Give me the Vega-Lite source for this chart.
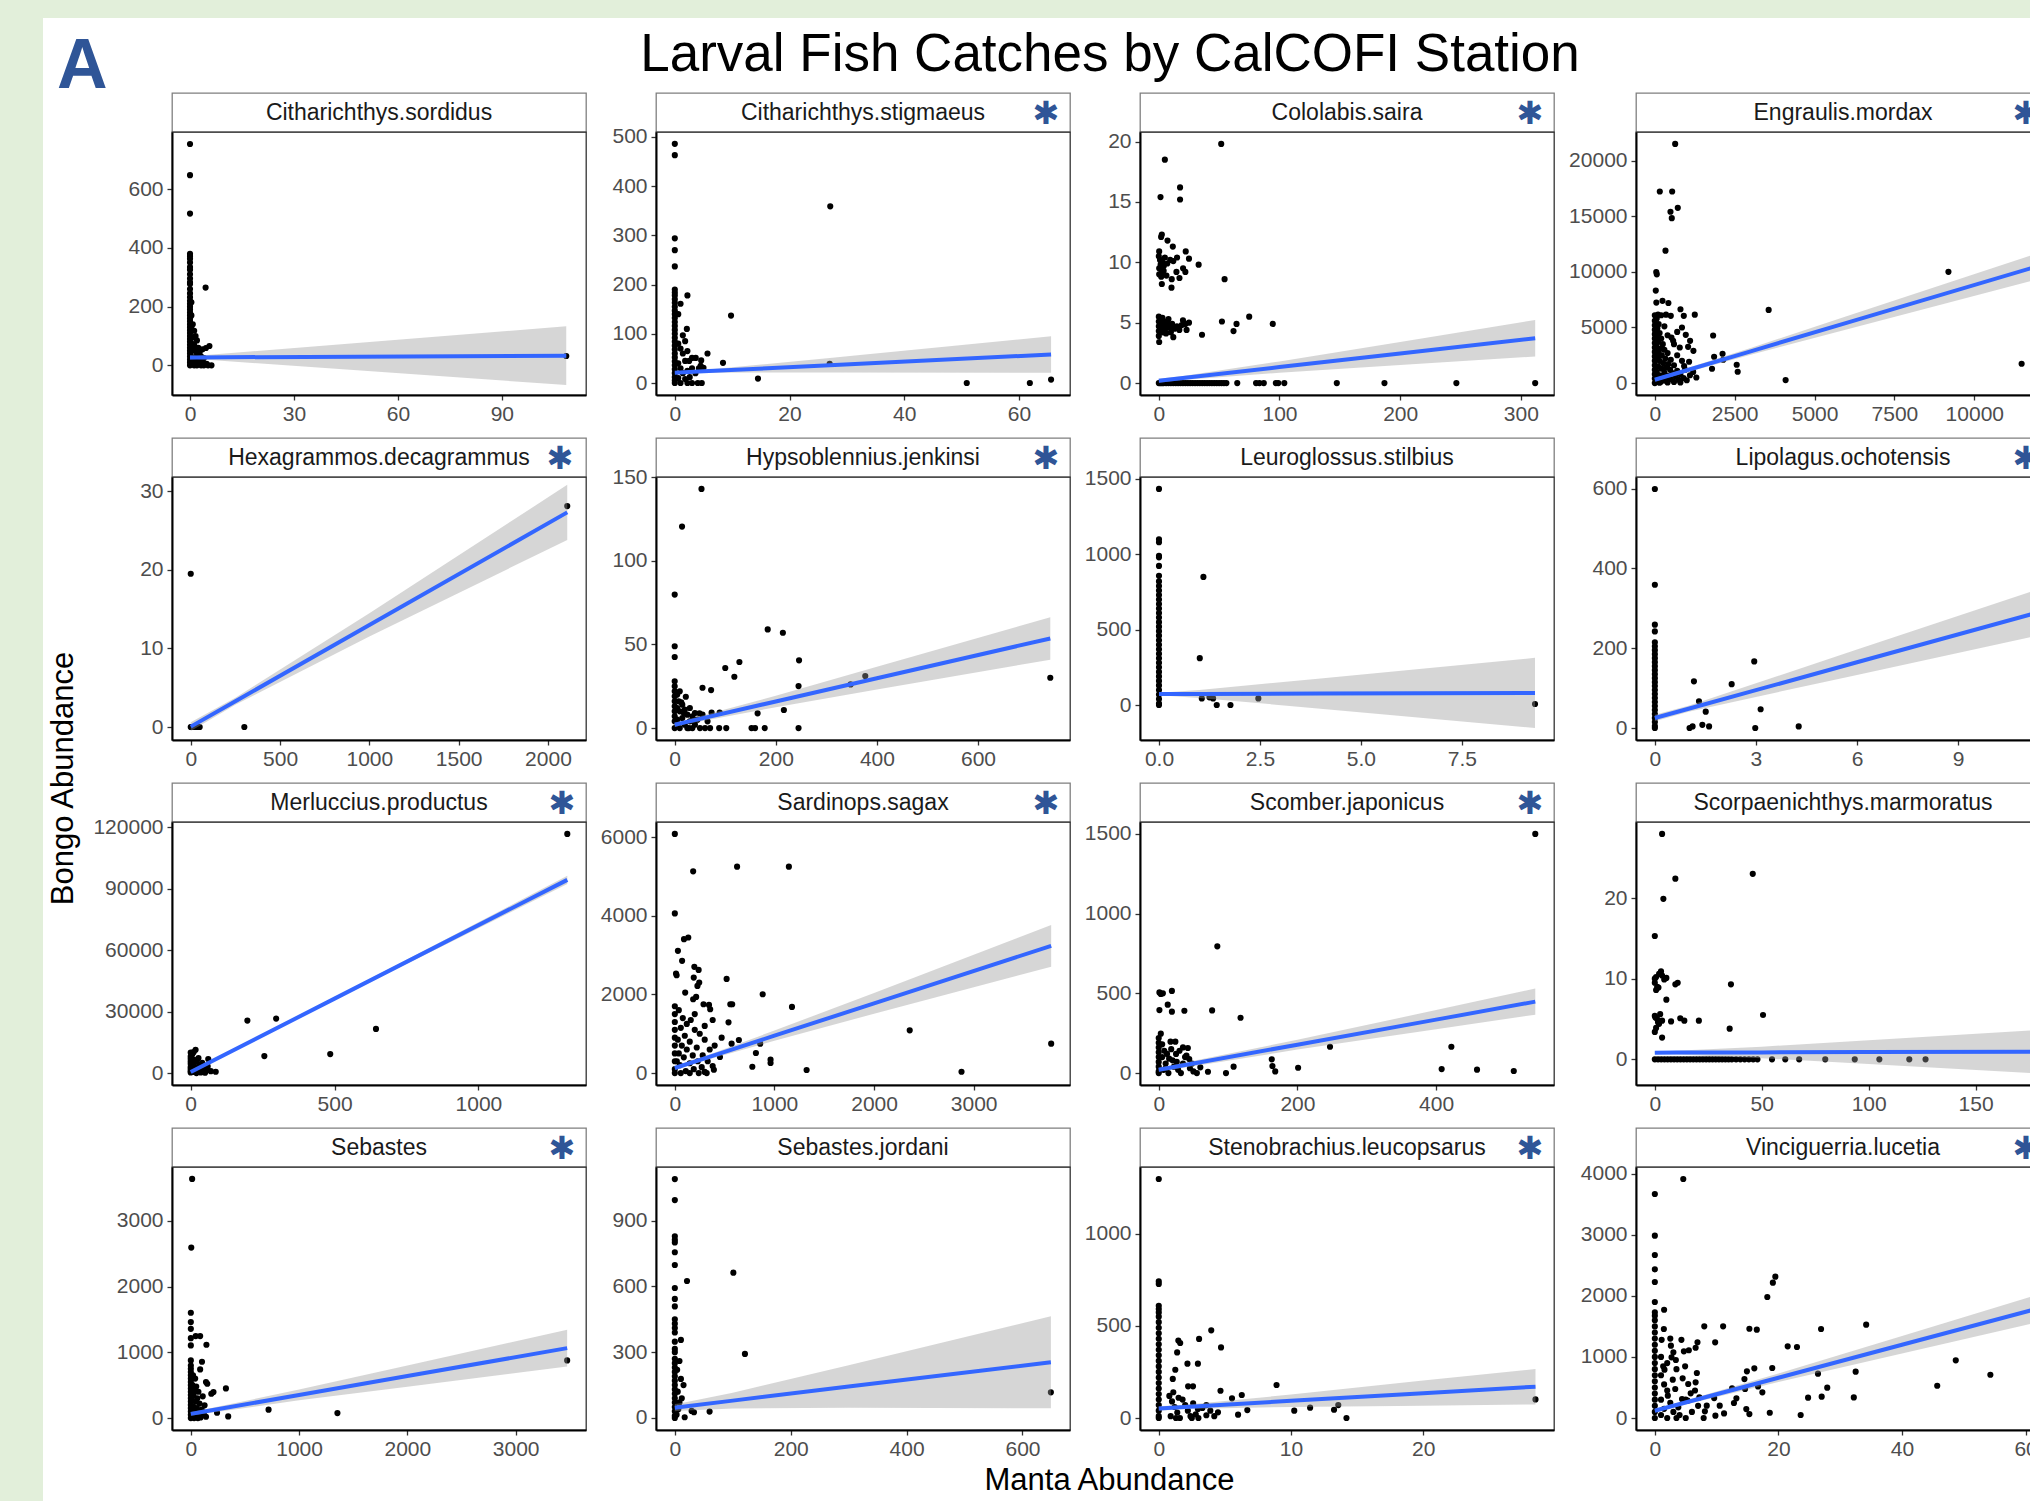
{
"$schema": "https://vega.github.io/schema/vega-lite/v6.json",
"padding": 0,
"background": "white",
"config": {
  "view": {"stroke": null},
  "axis": {"grid": false, "labelFont": "Liberation Sans", "labelFontSize": 21, "labelColor": "#4d4d4d", "tickColor": "#333333", "tickSize": 5, "tickWidth": 1.3, "domainColor": "#000000", "domainWidth": 2, "labelPadding": 4, "labelFlush": false, "labelOverlap": false},
  "axisX": {"minExtent": 34, "labelPadding": 3},
  "title": {"font": "Liberation Sans", "color": "#000000", "fontWeight": "normal"}
},
"datasets": {
"pts1": [{"manta":0,"bongo":754},{"manta":0,"bongo":648},{"manta":0,"bongo":517},{"manta":0,"bongo":380},{"manta":0,"bongo":372},{"manta":0,"bongo":363},{"manta":0,"bongo":350},{"manta":0,"bongo":335},{"manta":0,"bongo":326},{"manta":0,"bongo":310},{"manta":0,"bongo":296},{"manta":0,"bongo":283},{"manta":0,"bongo":277},{"manta":0,"bongo":260},{"manta":0,"bongo":245},{"manta":0,"bongo":232},{"manta":0,"bongo":220},{"manta":0,"bongo":210},{"manta":0,"bongo":200},{"manta":0,"bongo":190},{"manta":0,"bongo":180},{"manta":0,"bongo":170},{"manta":0,"bongo":160},{"manta":0,"bongo":150},{"manta":0,"bongo":140},{"manta":0,"bongo":130},{"manta":0,"bongo":120},{"manta":0,"bongo":110},{"manta":0,"bongo":100},{"manta":0,"bongo":90},{"manta":0,"bongo":80},{"manta":0,"bongo":70},{"manta":0,"bongo":60},{"manta":0,"bongo":50},{"manta":0,"bongo":40},{"manta":0,"bongo":30},{"manta":0,"bongo":20},{"manta":0,"bongo":10},{"manta":0,"bongo":0},{"manta":0.4,"bongo":215},{"manta":0.4,"bongo":170},{"manta":0.4,"bongo":125},{"manta":0.4,"bongo":75},{"manta":0.4,"bongo":30},{"manta":0.8,"bongo":140},{"manta":0.8,"bongo":95},{"manta":0.8,"bongo":50},{"manta":0.8,"bongo":10},{"manta":1.2,"bongo":118},{"manta":1.2,"bongo":70},{"manta":1.2,"bongo":25},{"manta":1.2,"bongo":0},{"manta":1.6,"bongo":100},{"manta":1.6,"bongo":55},{"manta":1.6,"bongo":15},{"manta":2,"bongo":85},{"manta":2,"bongo":40},{"manta":2,"bongo":0},{"manta":2.4,"bongo":60},{"manta":2.4,"bongo":20},{"manta":2.8,"bongo":45},{"manta":2.8,"bongo":5},{"manta":3.2,"bongo":30},{"manta":3.2,"bongo":0},{"manta":3.6,"bongo":55},{"manta":3.6,"bongo":15},{"manta":4,"bongo":25},{"manta":4,"bongo":0},{"manta":4.5,"bongo":265},{"manta":4.6,"bongo":59},{"manta":4.8,"bongo":5},{"manta":5.2,"bongo":0},{"manta":5.6,"bongo":66},{"manta":6.2,"bongo":0},{"manta":108.6,"bongo":32}],
"fit1": [{"manta":0,"fit":27,"lo":20,"hi":34},{"manta":2,"fit":27.1,"lo":21.5,"hi":32.7},{"manta":108.6,"fit":33,"lo":-67,"hi":133}],
"pts2": [{"manta":0,"bongo":486},{"manta":0,"bongo":463},{"manta":0,"bongo":294},{"manta":0,"bongo":270},{"manta":0,"bongo":237},{"manta":0,"bongo":190},{"manta":0,"bongo":184},{"manta":0,"bongo":178},{"manta":0,"bongo":170},{"manta":0,"bongo":163},{"manta":0,"bongo":155},{"manta":0,"bongo":147},{"manta":0,"bongo":140},{"manta":0,"bongo":132},{"manta":0,"bongo":124},{"manta":0,"bongo":116},{"manta":0,"bongo":108},{"manta":0,"bongo":100},{"manta":0,"bongo":92},{"manta":0,"bongo":84},{"manta":0,"bongo":76},{"manta":0,"bongo":68},{"manta":0,"bongo":60},{"manta":0,"bongo":52},{"manta":0,"bongo":44},{"manta":0,"bongo":36},{"manta":0,"bongo":28},{"manta":0,"bongo":20},{"manta":0,"bongo":12},{"manta":0,"bongo":5},{"manta":0,"bongo":0},{"manta":2.2,"bongo":178},{"manta":1.0,"bongo":161},{"manta":2.1,"bongo":110},{"manta":1.4,"bongo":97},{"manta":0.6,"bongo":140},{"manta":0.6,"bongo":80},{"manta":0.6,"bongo":40},{"manta":0.6,"bongo":10},{"manta":1.0,"bongo":70},{"manta":1.0,"bongo":30},{"manta":1.0,"bongo":0},{"manta":1.4,"bongo":60},{"manta":1.4,"bongo":20},{"manta":1.8,"bongo":85},{"manta":1.8,"bongo":45},{"manta":1.8,"bongo":8},{"manta":2.2,"bongo":65},{"manta":2.2,"bongo":25},{"manta":2.2,"bongo":0},{"manta":2.5,"bongo":45},{"manta":2.6,"bongo":12},{"manta":3.0,"bongo":51},{"manta":3.0,"bongo":30},{"manta":3.0,"bongo":0},{"manta":3.65,"bongo":51},{"manta":3.6,"bongo":20},{"manta":4.0,"bongo":0},{"manta":4.2,"bongo":30},{"manta":4.5,"bongo":35},{"manta":4.6,"bongo":46},{"manta":4.7,"bongo":0},{"manta":5.0,"bongo":31},{"manta":5.7,"bongo":60},{"manta":8.4,"bongo":41},{"manta":9.8,"bongo":137},{"manta":14.5,"bongo":9},{"manta":27.1,"bongo":359},{"manta":27.0,"bongo":39},{"manta":50.9,"bongo":0},{"manta":61.9,"bongo":0},{"manta":65.6,"bongo":7}],
"fit2": [{"manta":0,"fit":21,"lo":19,"hi":23},{"manta":5,"fit":23.8,"lo":21,"hi":26.5},{"manta":27,"fit":36.2,"lo":21.5,"hi":51},{"manta":65.6,"fit":58,"lo":21,"hi":95}],
"pts3": [{"manta":51.7,"bongo":19.8},{"manta":5.0,"bongo":18.5},{"manta":1.4,"bongo":15.4},{"manta":17.6,"bongo":16.2},{"manta":17.6,"bongo":15.2},{"manta":2.5,"bongo":12.3},{"manta":1.9,"bongo":12.1},{"manta":7.2,"bongo":11.8},{"manta":11.6,"bongo":11.3},{"manta":0.3,"bongo":10.9},{"manta":0,"bongo":10.5},{"manta":22.3,"bongo":10.9},{"manta":25,"bongo":10.3},{"manta":15.1,"bongo":10.4},{"manta":9.4,"bongo":10.2},{"manta":33,"bongo":9.8},{"manta":4.1,"bongo":9.7},{"manta":0.3,"bongo":9.5},{"manta":2.2,"bongo":9.1},{"manta":0.3,"bongo":9.0},{"manta":20.1,"bongo":9.5},{"manta":22,"bongo":9.2},{"manta":14.6,"bongo":9.2},{"manta":6.3,"bongo":8.9},{"manta":10.7,"bongo":8.6},{"manta":17.1,"bongo":8.7},{"manta":2.5,"bongo":8.2},{"manta":10.5,"bongo":7.9},{"manta":54.5,"bongo":8.6},{"manta":1,"bongo":10.2},{"manta":3,"bongo":10.0},{"manta":5,"bongo":10.4},{"manta":1.5,"bongo":9.8},{"manta":4,"bongo":9.3},{"manta":2,"bongo":8.8},{"manta":7,"bongo":9.9},{"manta":12,"bongo":10.1},{"manta":0,"bongo":5.5},{"manta":0,"bongo":5.1},{"manta":0,"bongo":4.7},{"manta":0,"bongo":4.3},{"manta":0,"bongo":3.9},{"manta":1,"bongo":5.3},{"manta":1,"bongo":4.8},{"manta":1.5,"bongo":4.4},{"manta":2,"bongo":5.0},{"manta":2.5,"bongo":4.6},{"manta":3,"bongo":5.4},{"manta":3.5,"bongo":4.2},{"manta":4,"bongo":4.8},{"manta":5,"bongo":5.1},{"manta":5.5,"bongo":4.5},{"manta":6,"bongo":4.1},{"manta":7,"bongo":4.9},{"manta":8,"bongo":5.3},{"manta":9,"bongo":4.6},{"manta":10,"bongo":4.2},{"manta":11,"bongo":4.9},{"manta":12,"bongo":3.8},{"manta":13,"bongo":4.5},{"manta":15,"bongo":4.7},{"manta":17,"bongo":4.4},{"manta":19,"bongo":4.8},{"manta":20,"bongo":5.2},{"manta":22,"bongo":4.9},{"manta":23,"bongo":4.4},{"manta":25,"bongo":5.0},{"manta":0.3,"bongo":3.4},{"manta":35.8,"bongo":4.0},{"manta":52.3,"bongo":5.1},{"manta":61.9,"bongo":4.3},{"manta":64.4,"bongo":4.9},{"manta":74.9,"bongo":5.5},{"manta":94.4,"bongo":4.9},{"manta":0,"bongo":0},{"manta":1,"bongo":0},{"manta":2,"bongo":0},{"manta":3,"bongo":0},{"manta":4,"bongo":0},{"manta":6,"bongo":0},{"manta":8,"bongo":0},{"manta":10,"bongo":0},{"manta":12,"bongo":0},{"manta":14,"bongo":0},{"manta":16,"bongo":0},{"manta":18,"bongo":0},{"manta":20,"bongo":0},{"manta":22,"bongo":0},{"manta":24,"bongo":0},{"manta":26,"bongo":0},{"manta":28,"bongo":0},{"manta":30,"bongo":0},{"manta":32,"bongo":0},{"manta":34,"bongo":0},{"manta":36,"bongo":0},{"manta":38,"bongo":0},{"manta":40,"bongo":0},{"manta":42,"bongo":0},{"manta":44,"bongo":0},{"manta":46,"bongo":0},{"manta":48,"bongo":0},{"manta":50,"bongo":0},{"manta":52,"bongo":0},{"manta":54,"bongo":0},{"manta":56,"bongo":0},{"manta":65,"bongo":0},{"manta":80.6,"bongo":0},{"manta":83.4,"bongo":0},{"manta":87,"bongo":0},{"manta":97,"bongo":0},{"manta":99,"bongo":0},{"manta":104,"bongo":0},{"manta":147.5,"bongo":0},{"manta":187,"bongo":0},{"manta":246.6,"bongo":0},{"manta":311.9,"bongo":0}],
"fit3": [{"manta":0,"fit":0.19,"lo":0.02,"hi":0.36},{"manta":20,"fit":0.42,"lo":0.26,"hi":0.58},{"manta":100,"fit":1.32,"lo":0.85,"hi":1.79},{"manta":200,"fit":2.45,"lo":1.5,"hi":3.4},{"manta":311.9,"fit":3.71,"lo":2.2,"hi":5.22}],
"pts4": [{"manta":637,"bongo":21517},{"manta":156,"bongo":17236},{"manta":543,"bongo":17236},{"manta":719,"bongo":15772},{"manta":490,"bongo":15413},{"manta":531,"bongo":14841},{"manta":334,"bongo":11912},{"manta":45,"bongo":9991},{"manta":62,"bongo":9785},{"manta":30,"bongo":8322},{"manta":48,"bongo":7244},{"manta":240,"bongo":7400},{"manta":425,"bongo":7200},{"manta":803,"bongo":6643},{"manta":907,"bongo":6048},{"manta":1251,"bongo":6150},{"manta":3563,"bongo":6580},{"manta":9190,"bongo":10011},{"manta":11481,"bongo":1735},{"manta":4094,"bongo":269},{"manta":1825,"bongo":4282},{"manta":1856,"bongo":2366},{"manta":2120,"bongo":2635},{"manta":2140,"bongo":2100},{"manta":1790,"bongo":1287},{"manta":2563,"bongo":1645},{"manta":2594,"bongo":1017},{"manta":521,"bongo":4100},{"manta":573,"bongo":3800},{"manta":969,"bongo":4340},{"manta":1104,"bongo":3800},{"manta":1042,"bongo":3262},{"manta":1208,"bongo":2900},{"manta":781,"bongo":3200},{"manta":917,"bongo":1526},{"manta":1073,"bongo":1915},{"manta":0,"bongo":6100},{"manta":100,"bongo":6150},{"manta":200,"bongo":6100},{"manta":350,"bongo":6150},{"manta":500,"bongo":6050},{"manta":0,"bongo":5600},{"manta":0,"bongo":5200},{"manta":0,"bongo":4800},{"manta":0,"bongo":4400},{"manta":0,"bongo":4000},{"manta":0,"bongo":3600},{"manta":0,"bongo":3200},{"manta":0,"bongo":2800},{"manta":0,"bongo":2400},{"manta":0,"bongo":2000},{"manta":0,"bongo":1600},{"manta":0,"bongo":1200},{"manta":0,"bongo":800},{"manta":0,"bongo":400},{"manta":0,"bongo":0},{"manta":60,"bongo":5800},{"manta":120,"bongo":5300},{"manta":80,"bongo":4900},{"manta":150,"bongo":4500},{"manta":60,"bongo":4200},{"manta":200,"bongo":4000},{"manta":100,"bongo":3700},{"manta":250,"bongo":3500},{"manta":50,"bongo":3300},{"manta":180,"bongo":3100},{"manta":300,"bongo":3000},{"manta":120,"bongo":2800},{"manta":400,"bongo":2700},{"manta":220,"bongo":2500},{"manta":80,"bongo":2300},{"manta":330,"bongo":2200},{"manta":500,"bongo":2100},{"manta":150,"bongo":2000},{"manta":260,"bongo":1800},{"manta":420,"bongo":1700},{"manta":600,"bongo":1600},{"manta":100,"bongo":1500},{"manta":350,"bongo":1400},{"manta":200,"bongo":1300},{"manta":480,"bongo":1200},{"manta":700,"bongo":1100},{"manta":60,"bongo":1000},{"manta":300,"bongo":950},{"manta":550,"bongo":900},{"manta":800,"bongo":800},{"manta":150,"bongo":700},{"manta":400,"bongo":650},{"manta":650,"bongo":600},{"manta":250,"bongo":500},{"manta":900,"bongo":450},{"manta":100,"bongo":400},{"manta":500,"bongo":350},{"manta":750,"bongo":300},{"manta":350,"bongo":200},{"manta":1000,"bongo":250},{"manta":200,"bongo":150},{"manta":600,"bongo":100},{"manta":50,"bongo":100},{"manta":800,"bongo":50},{"manta":400,"bongo":50},{"manta":150,"bongo":30},{"manta":1100,"bongo":700},{"manta":1300,"bongo":500},{"manta":1200,"bongo":1000},{"manta":950,"bongo":1200},{"manta":700,"bongo":2500},{"manta":850,"bongo":2000},{"manta":600,"bongo":3500},{"manta":700,"bongo":4600},{"manta":850,"bongo":5000},{"manta":400,"bongo":4300},{"manta":300,"bongo":5100}],
"fit4": [{"manta":0,"fit":300,"lo":147,"hi":453},{"manta":500,"fit":726,"lo":574,"hi":878},{"manta":3000,"fit":2856,"lo":2547,"hi":3165},{"manta":6000,"fit":5412,"lo":4823,"hi":6001},{"manta":11780,"fit":10337,"lo":9179,"hi":11495}],
"pts5": [{"manta":0,"bongo":19.5},{"manta":0,"bongo":0},{"manta":5,"bongo":0},{"manta":12,"bongo":0},{"manta":20,"bongo":0},{"manta":30,"bongo":0},{"manta":40,"bongo":0},{"manta":50,"bongo":0},{"manta":300,"bongo":0},{"manta":2108,"bongo":28.1}],
"fit5": [{"manta":0,"fit":0.05,"lo":-0.5,"hi":0.6},{"manta":250,"fit":3.28,"lo":2.83,"hi":3.73},{"manta":1000,"fit":12.98,"lo":11.5,"hi":14.46},{"manta":2108,"fit":27.3,"lo":23.8,"hi":30.8}],
"pts6": [{"manta":53,"bongo":143},{"manta":14.5,"bongo":120.5},{"manta":0,"bongo":79.8},{"manta":0,"bongo":48.9},{"manta":0,"bongo":42.5},{"manta":0,"bongo":28},{"manta":184,"bongo":59},{"manta":214,"bongo":57},{"manta":246,"bongo":40.5},{"manta":128,"bongo":39.5},{"manta":100,"bongo":35.9},{"manta":118,"bongo":30.7},{"manta":377,"bongo":31.1},{"manta":348,"bongo":26.1},{"manta":743,"bongo":30.1},{"manta":245,"bongo":25.1},{"manta":55,"bongo":24.1},{"manta":72,"bongo":22.7},{"manta":216,"bongo":10.8},{"manta":164,"bongo":8.8},{"manta":73,"bongo":9.2},{"manta":89,"bongo":9.2},{"manta":22,"bongo":18.7},{"manta":13,"bongo":15.4},{"manta":49,"bongo":8.8},{"manta":245,"bongo":0},{"manta":178,"bongo":0},{"manta":159,"bongo":0},{"manta":152,"bongo":0},{"manta":102,"bongo":0},{"manta":88,"bongo":0},{"manta":0,"bongo":25},{"manta":0,"bongo":22},{"manta":0,"bongo":19},{"manta":0,"bongo":16},{"manta":0,"bongo":13},{"manta":0,"bongo":10},{"manta":0,"bongo":7},{"manta":0,"bongo":4},{"manta":0,"bongo":0},{"manta":5,"bongo":20},{"manta":5,"bongo":12},{"manta":5,"bongo":5},{"manta":10,"bongo":22},{"manta":10,"bongo":10},{"manta":10,"bongo":0},{"manta":15,"bongo":14},{"manta":15,"bongo":6},{"manta":20,"bongo":11},{"manta":20,"bongo":2},{"manta":25,"bongo":8},{"manta":25,"bongo":0},{"manta":30,"bongo":12},{"manta":30,"bongo":4},{"manta":35,"bongo":7},{"manta":35,"bongo":0},{"manta":40,"bongo":9},{"manta":40,"bongo":2},{"manta":45,"bongo":5},{"manta":50,"bongo":0},{"manta":55,"bongo":8},{"manta":60,"bongo":0},{"manta":65,"bongo":4},{"manta":70,"bongo":0},{"manta":8,"bongo":16},{"manta":18,"bongo":9},{"manta":28,"bongo":0},{"manta":38,"bongo":5}],
"fit6": [{"manta":0,"fit":2,"lo":0.7,"hi":3.3},{"manta":20,"fit":3.4,"lo":2.2,"hi":4.6},{"manta":200,"fit":15.9,"lo":12.5,"hi":19.3},{"manta":400,"fit":29.8,"lo":23,"hi":36.6},{"manta":743,"fit":53.6,"lo":40.9,"hi":66.3}],
"pts7": [{"manta":0,"bongo":1434},{"manta":0,"bongo":1100},{"manta":0,"bongo":1080},{"manta":0,"bongo":990},{"manta":0,"bongo":980},{"manta":0,"bongo":923},{"manta":0,"bongo":857},{"manta":0,"bongo":820},{"manta":0,"bongo":790},{"manta":0,"bongo":760},{"manta":0,"bongo":730},{"manta":0,"bongo":700},{"manta":0,"bongo":670},{"manta":0,"bongo":640},{"manta":0,"bongo":610},{"manta":0,"bongo":580},{"manta":0,"bongo":550},{"manta":0,"bongo":520},{"manta":0,"bongo":490},{"manta":0,"bongo":460},{"manta":0,"bongo":430},{"manta":0,"bongo":400},{"manta":0,"bongo":370},{"manta":0,"bongo":340},{"manta":0,"bongo":310},{"manta":0,"bongo":280},{"manta":0,"bongo":250},{"manta":0,"bongo":220},{"manta":0,"bongo":190},{"manta":0,"bongo":160},{"manta":0,"bongo":130},{"manta":0,"bongo":100},{"manta":0,"bongo":70},{"manta":0,"bongo":40},{"manta":0,"bongo":10},{"manta":0,"bongo":0},{"manta":1.1,"bongo":850},{"manta":1.01,"bongo":311},{"manta":1.06,"bongo":44},{"manta":1.25,"bongo":51},{"manta":1.34,"bongo":44},{"manta":1.43,"bongo":0},{"manta":1.77,"bongo":0},{"manta":2.46,"bongo":44},{"manta":9.31,"bongo":7}],
"fit7": [{"manta":0,"fit":73,"lo":65,"hi":81},{"manta":1,"fit":73.8,"lo":47,"hi":100},{"manta":4,"fit":76,"lo":-24,"hi":176},{"manta":9.31,"fit":80,"lo":-153,"hi":313}],
"pts8": [{"manta":0,"bongo":599},{"manta":0,"bongo":359},{"manta":0,"bongo":259},{"manta":0,"bongo":242},{"manta":0,"bongo":215},{"manta":0,"bongo":205},{"manta":0,"bongo":195},{"manta":0,"bongo":185},{"manta":0,"bongo":175},{"manta":0,"bongo":165},{"manta":0,"bongo":155},{"manta":0,"bongo":145},{"manta":0,"bongo":135},{"manta":0,"bongo":125},{"manta":0,"bongo":115},{"manta":0,"bongo":105},{"manta":0,"bongo":95},{"manta":0,"bongo":85},{"manta":0,"bongo":75},{"manta":0,"bongo":65},{"manta":0,"bongo":55},{"manta":0,"bongo":45},{"manta":0,"bongo":35},{"manta":0,"bongo":25},{"manta":0,"bongo":15},{"manta":0,"bongo":5},{"manta":0,"bongo":0},{"manta":1.16,"bongo":117},{"manta":1.31,"bongo":67},{"manta":1.51,"bongo":41},{"manta":2.28,"bongo":110},{"manta":2.95,"bongo":167},{"manta":3.14,"bongo":47},{"manta":1.03,"bongo":0},{"manta":1.12,"bongo":4},{"manta":1.41,"bongo":8},{"manta":1.61,"bongo":4},{"manta":2.98,"bongo":0},{"manta":4.27,"bongo":4}],
"fit8": [{"manta":0,"fit":25,"lo":17,"hi":33},{"manta":1,"fit":48.3,"lo":41,"hi":56},{"manta":3,"fit":94.9,"lo":78,"hi":112},{"manta":6,"fit":164.8,"lo":133,"hi":197},{"manta":11.17,"fit":285,"lo":228,"hi":342}],
"pts9": [{"manta":1309,"bongo":116757},{"manta":197,"bongo":25622},{"manta":297,"bongo":26595},{"manta":256,"bongo":8270},{"manta":485,"bongo":9243},{"manta":644,"bongo":21568},{"manta":87,"bongo":649},{"manta":17,"bongo":11350},{"manta":10,"bongo":10216},{"manta":0,"bongo":8108},{"manta":0,"bongo":5676},{"manta":27,"bongo":7297},{"manta":61,"bongo":6811},{"manta":59,"bongo":3243},{"manta":38,"bongo":2432},{"manta":6,"bongo":1135},{"manta":0,"bongo":10000},{"manta":5,"bongo":9000},{"manta":0,"bongo":7000},{"manta":12,"bongo":6500},{"manta":20,"bongo":5500},{"manta":0,"bongo":4500},{"manta":8,"bongo":4000},{"manta":30,"bongo":4200},{"manta":0,"bongo":3000},{"manta":15,"bongo":2800},{"manta":45,"bongo":1800},{"manta":0,"bongo":2000},{"manta":25,"bongo":1500},{"manta":0,"bongo":1000},{"manta":10,"bongo":600},{"manta":35,"bongo":300},{"manta":0,"bongo":300},{"manta":20,"bongo":0},{"manta":50,"bongo":200},{"manta":70,"bongo":900},{"manta":40,"bongo":5000},{"manta":55,"bongo":1200}],
"fit9": [{"manta":0,"fit":486,"lo":186,"hi":786},{"manta":500,"fit":36336,"lo":35700,"hi":36970},{"manta":1309,"fit":94340,"lo":92340,"hi":96340}],
"pts10": [{"manta":0,"bongo":6086},{"manta":0,"bongo":4063},{"manta":184,"bongo":5134},{"manta":625,"bongo":5253},{"manta":1145,"bongo":5253},{"manta":92,"bongo":3408},{"manta":135,"bongo":3451},{"manta":31,"bongo":3111},{"manta":73,"bongo":2856},{"manta":12,"bongo":2533},{"manta":18,"bongo":2490},{"manta":196,"bongo":2703},{"manta":239,"bongo":2626},{"manta":190,"bongo":2431},{"manta":520,"bongo":2397},{"manta":245,"bongo":2303},{"manta":227,"bongo":2218},{"manta":104,"bongo":2048},{"manta":214,"bongo":1938},{"manta":184,"bongo":1878},{"manta":882,"bongo":2006},{"manta":1176,"bongo":1683},{"manta":557,"bongo":1751},{"manta":576,"bongo":1751},{"manta":288,"bongo":1751},{"manta":343,"bongo":1734},{"manta":355,"bongo":1623},{"manta":380,"bongo":1351},{"manta":539,"bongo":1292},{"manta":643,"bongo":841},{"manta":570,"bongo":748},{"manta":857,"bongo":748},{"manta":814,"bongo":510},{"manta":961,"bongo":340},{"manta":961,"bongo":255},{"manta":778,"bongo":161},{"manta":1323,"bongo":77},{"manta":2358,"bongo":1088},{"manta":2878,"bongo":34},{"manta":3778,"bongo":748},{"manta":453,"bongo":408},{"manta":392,"bongo":85},{"manta":0,"bongo":1700},{"manta":0,"bongo":1500},{"manta":0,"bongo":1300},{"manta":0,"bongo":1100},{"manta":0,"bongo":900},{"manta":0,"bongo":700},{"manta":0,"bongo":500},{"manta":0,"bongo":300},{"manta":0,"bongo":100},{"manta":0,"bongo":0},{"manta":40,"bongo":1600},{"manta":80,"bongo":1400},{"manta":120,"bongo":1250},{"manta":160,"bongo":1350},{"manta":60,"bongo":1150},{"manta":200,"bongo":1100},{"manta":100,"bongo":950},{"manta":250,"bongo":1000},{"manta":30,"bongo":850},{"manta":150,"bongo":800},{"manta":300,"bongo":850},{"manta":70,"bongo":700},{"manta":220,"bongo":650},{"manta":120,"bongo":600},{"manta":350,"bongo":600},{"manta":40,"bongo":500},{"manta":180,"bongo":450},{"manta":280,"bongo":450},{"manta":90,"bongo":400},{"manta":230,"bongo":300},{"manta":330,"bongo":300},{"manta":150,"bongo":250},{"manta":50,"bongo":200},{"manta":270,"bongo":150},{"manta":190,"bongo":100},{"manta":110,"bongo":50},{"manta":300,"bongo":30},{"manta":380,"bongo":180},{"manta":20,"bongo":300},{"manta":60,"bongo":0},{"manta":150,"bongo":0},{"manta":240,"bongo":0},{"manta":320,"bongo":0},{"manta":400,"bongo":700},{"manta":470,"bongo":900},{"manta":300,"bongo":1200},{"manta":200,"bongo":1500}],
"fit10": [{"manta":0,"fit":128,"lo":78,"hi":178},{"manta":300,"fit":375,"lo":320,"hi":430},{"manta":1000,"fit":951,"lo":820,"hi":1082},{"manta":2000,"fit":1774,"lo":1510,"hi":2038},{"manta":3778,"fit":3238,"lo":2707,"hi":3769}],
"pts11": [{"manta":543,"bongo":1500},{"manta":84.5,"bongo":795},{"manta":3,"bongo":496},{"manta":6,"bongo":500},{"manta":1,"bongo":506},{"manta":19,"bongo":515},{"manta":13,"bongo":429},{"manta":1,"bongo":395},{"manta":19,"bongo":385},{"manta":37,"bongo":391},{"manta":77,"bongo":393},{"manta":118,"bongo":347},{"manta":3,"bongo":247},{"manta":17,"bongo":197},{"manta":24,"bongo":197},{"manta":35,"bongo":161},{"manta":42,"bongo":157},{"manta":44,"bongo":88},{"manta":60,"bongo":36},{"manta":71,"bongo":8},{"manta":97,"bongo":0},{"manta":108,"bongo":40},{"manta":163,"bongo":86},{"manta":164,"bongo":44},{"manta":168,"bongo":10},{"manta":201,"bongo":33},{"manta":247,"bongo":165},{"manta":422,"bongo":165},{"manta":408,"bongo":25},{"manta":459,"bongo":21},{"manta":512,"bongo":13},{"manta":0,"bongo":220},{"manta":0,"bongo":190},{"manta":0,"bongo":160},{"manta":0,"bongo":130},{"manta":0,"bongo":100},{"manta":0,"bongo":70},{"manta":0,"bongo":40},{"manta":0,"bongo":10},{"manta":0,"bongo":0},{"manta":5,"bongo":180},{"manta":8,"bongo":140},{"manta":12,"bongo":120},{"manta":5,"bongo":100},{"manta":15,"bongo":90},{"manta":10,"bongo":60},{"manta":20,"bongo":80},{"manta":25,"bongo":120},{"manta":30,"bongo":140},{"manta":22,"bongo":40},{"manta":28,"bongo":20},{"manta":35,"bongo":60},{"manta":40,"bongo":110},{"manta":32,"bongo":0},{"manta":45,"bongo":30},{"manta":50,"bongo":10},{"manta":14,"bongo":0},{"manta":7,"bongo":20},{"manta":18,"bongo":150},{"manta":26,"bongo":70},{"manta":38,"bongo":100},{"manta":48,"bongo":60},{"manta":55,"bongo":0},{"manta":10,"bongo":30}],
"fit11": [{"manta":0,"fit":21,"lo":8,"hi":34},{"manta":20,"fit":36.7,"lo":23,"hi":50},{"manta":200,"fit":178,"lo":147,"hi":209},{"manta":400,"fit":335,"lo":275,"hi":395},{"manta":543,"fit":448,"lo":366,"hi":530}],
"pts12": [{"manta":3.4,"bongo":27.95},{"manta":9.6,"bongo":22.4},{"manta":4.0,"bongo":19.9},{"manta":45.8,"bongo":23.0},{"manta":0,"bongo":15.3},{"manta":0.6,"bongo":8.6},{"manta":1.1,"bongo":9.0},{"manta":2,"bongo":10.6},{"manta":0.6,"bongo":10.2},{"manta":3.4,"bongo":10.4},{"manta":4.4,"bongo":9.9},{"manta":5.4,"bongo":10.1},{"manta":2.9,"bongo":10.9},{"manta":1.7,"bongo":8.9},{"manta":0,"bongo":9.5},{"manta":0,"bongo":10.0},{"manta":9.6,"bongo":9.3},{"manta":10.7,"bongo":9.5},{"manta":35.6,"bongo":9.3},{"manta":5.4,"bongo":7.4},{"manta":0,"bongo":5.4},{"manta":1.1,"bongo":5.0},{"manta":2,"bongo":4.4},{"manta":0.6,"bongo":3.9},{"manta":0,"bongo":3.4},{"manta":3.4,"bongo":4.8},{"manta":2.5,"bongo":5.6},{"manta":3.4,"bongo":2.7},{"manta":7.6,"bongo":4.7},{"manta":11.9,"bongo":5.1},{"manta":13.8,"bongo":4.8},{"manta":20.6,"bongo":4.8},{"manta":35,"bongo":3.8},{"manta":50.6,"bongo":5.5},{"manta":1.5,"bongo":4.6},{"manta":0.3,"bongo":5.2},{"manta":0,"bongo":0},{"manta":1.5,"bongo":0},{"manta":3,"bongo":0},{"manta":4.5,"bongo":0},{"manta":6,"bongo":0},{"manta":7.5,"bongo":0},{"manta":9,"bongo":0},{"manta":10.5,"bongo":0},{"manta":12,"bongo":0},{"manta":13.5,"bongo":0},{"manta":15,"bongo":0},{"manta":16.5,"bongo":0},{"manta":18,"bongo":0},{"manta":19.5,"bongo":0},{"manta":21,"bongo":0},{"manta":22.5,"bongo":0},{"manta":24,"bongo":0},{"manta":25.5,"bongo":0},{"manta":27,"bongo":0},{"manta":28.5,"bongo":0},{"manta":30,"bongo":0},{"manta":31.5,"bongo":0},{"manta":33,"bongo":0},{"manta":34.5,"bongo":0},{"manta":36,"bongo":0},{"manta":38,"bongo":0},{"manta":40,"bongo":0},{"manta":42,"bongo":0},{"manta":44,"bongo":0},{"manta":46,"bongo":0},{"manta":48,"bongo":0},{"manta":54.8,"bongo":0},{"manta":61,"bongo":0},{"manta":67.5,"bongo":0},{"manta":79.7,"bongo":0},{"manta":93.5,"bongo":0},{"manta":105,"bongo":0},{"manta":119,"bongo":0},{"manta":126.6,"bongo":0}],
"fit12": [{"manta":0,"fit":0.83,"lo":0.68,"hi":0.98},{"manta":10,"fit":0.84,"lo":0.6,"hi":1.08},{"manta":50,"fit":0.86,"lo":0.15,"hi":1.57},{"manta":100,"fit":0.9,"lo":-0.58,"hi":2.38},{"manta":176,"fit":0.95,"lo":-1.7,"hi":3.6}],
"pts13": [{"manta":12,"bongo":3639},{"manta":4,"bongo":2595},{"manta":0,"bongo":1602},{"manta":0,"bongo":1460},{"manta":0,"bongo":1358},{"manta":45,"bongo":1247},{"manta":86,"bongo":1247},{"manta":0,"bongo":1216},{"manta":0,"bongo":1105},{"manta":144,"bongo":1115},{"manta":0,"bongo":877},{"manta":0,"bongo":800},{"manta":103,"bongo":857},{"manta":86,"bongo":740},{"manta":140,"bongo":547},{"manta":152,"bongo":522},{"manta":189,"bongo":370},{"manta":209,"bongo":395},{"manta":324,"bongo":451},{"manta":127,"bongo":193},{"manta":242,"bongo":81},{"manta":345,"bongo":25},{"manta":718,"bongo":127},{"manta":1354,"bongo":76},{"manta":3476,"bongo":877},{"manta":0,"bongo":750},{"manta":0,"bongo":700},{"manta":0,"bongo":650},{"manta":0,"bongo":600},{"manta":0,"bongo":550},{"manta":0,"bongo":500},{"manta":0,"bongo":450},{"manta":0,"bongo":400},{"manta":0,"bongo":350},{"manta":0,"bongo":300},{"manta":0,"bongo":250},{"manta":0,"bongo":200},{"manta":0,"bongo":150},{"manta":0,"bongo":100},{"manta":0,"bongo":50},{"manta":0,"bongo":0},{"manta":20,"bongo":650},{"manta":40,"bongo":600},{"manta":15,"bongo":500},{"manta":50,"bongo":480},{"manta":30,"bongo":420},{"manta":70,"bongo":400},{"manta":25,"bongo":350},{"manta":60,"bongo":300},{"manta":10,"bongo":280},{"manta":45,"bongo":250},{"manta":80,"bongo":220},{"manta":20,"bongo":180},{"manta":55,"bongo":150},{"manta":35,"bongo":100},{"manta":75,"bongo":80},{"manta":15,"bongo":60},{"manta":50,"bongo":30},{"manta":90,"bongo":10},{"manta":65,"bongo":0},{"manta":30,"bongo":0},{"manta":110,"bongo":330},{"manta":100,"bongo":130},{"manta":120,"bongo":60},{"manta":140,"bongo":20}],
"fit13": [{"manta":0,"fit":63,"lo":33,"hi":93},{"manta":100,"fit":92,"lo":62,"hi":122},{"manta":1000,"fit":351,"lo":269,"hi":433},{"manta":2000,"fit":639,"lo":478,"hi":800},{"manta":3476,"fit":1064,"lo":784,"hi":1344}],
"pts14": [{"manta":0,"bongo":1090},{"manta":0,"bongo":994},{"manta":0,"bongo":829},{"manta":0,"bongo":813},{"manta":0,"bongo":801},{"manta":0,"bongo":756},{"manta":0,"bongo":698},{"manta":0,"bongo":593},{"manta":0,"bongo":543},{"manta":0,"bongo":509},{"manta":0,"bongo":450},{"manta":0,"bongo":430},{"manta":0,"bongo":410},{"manta":0,"bongo":390},{"manta":21,"bongo":625},{"manta":101,"bongo":663},{"manta":121,"bongo":292},{"manta":10.5,"bongo":356},{"manta":0,"bongo":348},{"manta":0,"bongo":315},{"manta":0,"bongo":300},{"manta":0,"bongo":270},{"manta":0,"bongo":250},{"manta":0,"bongo":230},{"manta":0,"bongo":210},{"manta":0,"bongo":190},{"manta":0,"bongo":170},{"manta":0,"bongo":150},{"manta":0,"bongo":130},{"manta":0,"bongo":110},{"manta":0,"bongo":90},{"manta":0,"bongo":70},{"manta":0,"bongo":50},{"manta":0,"bongo":30},{"manta":0,"bongo":10},{"manta":0,"bongo":0},{"manta":10.5,"bongo":178},{"manta":29,"bongo":32},{"manta":33,"bongo":26},{"manta":60,"bongo":29},{"manta":649,"bongo":117},{"manta":8,"bongo":71},{"manta":17,"bongo":3},{"manta":5,"bongo":120},{"manta":12,"bongo":90},{"manta":6,"bongo":40},{"manta":15,"bongo":150},{"manta":4,"bongo":220},{"manta":8,"bongo":260},{"manta":3,"bongo":15}],
"fit14": [{"manta":0,"fit":47,"lo":30,"hi":64},{"manta":10,"fit":50,"lo":33,"hi":67},{"manta":100,"fit":79,"lo":43,"hi":115},{"manta":300,"fit":143,"lo":46,"hi":240},{"manta":649,"fit":254,"lo":44,"hi":464}],
"pts15": [{"manta":0,"bongo":1297},{"manta":0,"bongo":741},{"manta":0,"bongo":727},{"manta":0,"bongo":609},{"manta":0,"bongo":591},{"manta":0,"bongo":573},{"manta":0,"bongo":550},{"manta":0,"bongo":520},{"manta":0,"bongo":490},{"manta":0,"bongo":460},{"manta":0,"bongo":430},{"manta":0,"bongo":400},{"manta":0,"bongo":370},{"manta":0,"bongo":340},{"manta":0,"bongo":310},{"manta":0,"bongo":280},{"manta":0,"bongo":250},{"manta":0,"bongo":220},{"manta":0,"bongo":190},{"manta":0,"bongo":160},{"manta":0,"bongo":130},{"manta":0,"bongo":100},{"manta":0,"bongo":70},{"manta":0,"bongo":40},{"manta":0,"bongo":10},{"manta":0,"bongo":0},{"manta":3.97,"bongo":476},{"manta":3.05,"bongo":429},{"manta":1.48,"bongo":420},{"manta":1.62,"bongo":407},{"manta":4.71,"bongo":383},{"manta":1.39,"bongo":356},{"manta":2.17,"bongo":295},{"manta":2.96,"bongo":295},{"manta":1.25,"bongo":262},{"manta":1.06,"bongo":212},{"manta":2.22,"bongo":172},{"manta":2.59,"bongo":172},{"manta":4.67,"bongo":148},{"manta":8.91,"bongo":179},{"manta":6.28,"bongo":125},{"manta":5.54,"bongo":107},{"manta":3.6,"bongo":70},{"manta":2.96,"bongo":49},{"manta":4.48,"bongo":31},{"manta":6.7,"bongo":43},{"manta":6.0,"bongo":18},{"manta":10.25,"bongo":40},{"manta":11.45,"bongo":56},{"manta":13.26,"bongo":45},{"manta":13.58,"bongo":70},{"manta":14.2,"bongo":0},{"manta":28.5,"bongo":101},{"manta":0.8,"bongo":120},{"manta":1.0,"bongo":90},{"manta":1.2,"bongo":60},{"manta":1.4,"bongo":30},{"manta":1.6,"bongo":0},{"manta":1.8,"bongo":100},{"manta":2.0,"bongo":70},{"manta":2.2,"bongo":40},{"manta":2.4,"bongo":10},{"manta":2.6,"bongo":80},{"manta":2.8,"bongo":20},{"manta":3.0,"bongo":0},{"manta":3.3,"bongo":55},{"manta":3.6,"bongo":15},{"manta":1.1,"bongo":140},{"manta":1.5,"bongo":110},{"manta":0.9,"bongo":10},{"manta":1.3,"bongo":0},{"manta":2.5,"bongo":0},{"manta":3.9,"bongo":40},{"manta":4.2,"bongo":10}],
"fit15": [{"manta":0,"fit":52,"lo":40,"hi":64},{"manta":2,"fit":60.3,"lo":49,"hi":72},{"manta":10,"fit":93.4,"lo":60,"hi":127},{"manta":20,"fit":135,"lo":67,"hi":203},{"manta":28.5,"fit":170,"lo":74,"hi":266}],
"pts16": [{"manta":4.6,"bongo":3913},{"manta":0,"bongo":3667},{"manta":0,"bongo":2985},{"manta":0,"bongo":2669},{"manta":0,"bongo":2434},{"manta":0,"bongo":2226},{"manta":0,"bongo":1899},{"manta":0,"bongo":1730},{"manta":0,"bongo":1675},{"manta":1.5,"bongo":1773},{"manta":0,"bongo":1600},{"manta":0,"bongo":1500},{"manta":0,"bongo":1400},{"manta":0,"bongo":1300},{"manta":0,"bongo":1200},{"manta":0,"bongo":1100},{"manta":0,"bongo":1000},{"manta":0,"bongo":900},{"manta":0,"bongo":800},{"manta":0,"bongo":700},{"manta":0,"bongo":600},{"manta":0,"bongo":500},{"manta":0,"bongo":400},{"manta":0,"bongo":300},{"manta":0,"bongo":200},{"manta":0,"bongo":100},{"manta":0,"bongo":0},{"manta":1.46,"bongo":1457},{"manta":18.2,"bongo":1981},{"manta":19.1,"bongo":2216},{"manta":19.5,"bongo":2314},{"manta":8.0,"bongo":1501},{"manta":11.05,"bongo":1501},{"manta":15.3,"bongo":1462},{"manta":16.5,"bongo":1446},{"manta":26.9,"bongo":1457},{"manta":34.2,"bongo":1528},{"manta":21.5,"bongo":1173},{"manta":23.0,"bongo":1162},{"manta":9.76,"bongo":1239},{"manta":1.1,"bongo":1280},{"manta":2.5,"bongo":1300},{"manta":4.3,"bongo":1280},{"manta":6.9,"bongo":1240},{"manta":5.5,"bongo":1110},{"manta":6.6,"bongo":1150},{"manta":2.6,"bongo":1184},{"manta":3.0,"bongo":1075},{"manta":4.7,"bongo":1091},{"manta":2.7,"bongo":993},{"manta":3.4,"bongo":950},{"manta":4.9,"bongo":846},{"manta":1.35,"bongo":846},{"manta":1.56,"bongo":791},{"manta":19.0,"bongo":819},{"manta":14.5,"bongo":638},{"manta":14.9,"bongo":764},{"manta":16.1,"bongo":813},{"manta":26.4,"bongo":726},{"manta":32.5,"bongo":759},{"manta":48.7,"bongo":944},{"manta":54.3,"bongo":709},{"manta":45.7,"bongo":529},{"manta":27.9,"bongo":497},{"manta":24.8,"bongo":333},{"manta":27.0,"bongo":349},{"manta":32.2,"bongo":338},{"manta":23.6,"bongo":49},{"manta":18.6,"bongo":87},{"manta":17.4,"bongo":420},{"manta":16.7,"bongo":518},{"manta":14.6,"bongo":475},{"manta":14.8,"bongo":147},{"manta":15.3,"bongo":65},{"manta":12.8,"bongo":246},{"manta":13.2,"bongo":322},{"manta":12.5,"bongo":486},{"manta":11.2,"bongo":76},{"manta":9.6,"bongo":327},{"manta":10.5,"bongo":202},{"manta":9.8,"bongo":38},{"manta":8.4,"bongo":202},{"manta":8.1,"bongo":109},{"manta":7.9,"bongo":0},{"manta":7.2,"bongo":338},{"manta":5.8,"bongo":404},{"manta":5.3,"bongo":284},{"manta":6.6,"bongo":584},{"manta":6.8,"bongo":737},{"manta":5.4,"bongo":557},{"manta":2.9,"bongo":628},{"manta":3.3,"bongo":475},{"manta":2.1,"bongo":366},{"manta":4.4,"bongo":311},{"manta":3.8,"bongo":175},{"manta":1,"bongo":700},{"manta":1.5,"bongo":550},{"manta":2,"bongo":450},{"manta":1,"bongo":300},{"manta":2.5,"bongo":250},{"manta":3,"bongo":100},{"manta":1.5,"bongo":150},{"manta":4,"bongo":50},{"manta":5,"bongo":0},{"manta":6,"bongo":100},{"manta":7,"bongo":200},{"manta":2,"bongo":0},{"manta":3.5,"bongo":0},{"manta":1,"bongo":50},{"manta":6.5,"bongo":450},{"manta":4.5,"bongo":650},{"manta":3.5,"bongo":800},{"manta":2,"bongo":900},{"manta":1,"bongo":1000},{"manta":5,"bongo":300}],
"fit16": [{"manta":0,"fit":120,"lo":90,"hi":150},{"manta":3,"fit":201,"lo":173,"hi":229},{"manta":20,"fit":660,"lo":590,"hi":730},{"manta":40,"fit":1200,"lo":1057,"hi":1343},{"manta":60.9,"fit":1764,"lo":1543,"hi":1985}]
},
"vconcat": [
 {"width": 2080, "height": 18, "view": {"fill": "#e2efda", "stroke": null}, "data": {"values": [{"t": ""}]}, "mark": {"type": "text"}, "encoding": {"text": {"field": "t"}}},
 {"hconcat": [
  {"width": 43, "height": 1483, "view": {"fill": "#e2efda", "stroke": null}, "data": {"values": [{"t": ""}]}, "mark": {"type": "text"}, "encoding": {"text": {"field": "t"}}},
  {"vconcat": [
   {"width": 1876, "height": 75, "data": {"values": [{"label": "A", "title": "Larval Fish Catches by CalCOFI Station"}]}, "layer": [
     {"mark": {"type": "text", "font": "Liberation Sans", "fontSize": 53, "color": "#000000", "baseline": "alphabetic", "align": "center", "dy": 15}, "encoding": {"text": {"field": "title"}}},
     {"mark": {"type": "text", "font": "Liberation Sans", "fontSize": 70, "fontWeight": "bold", "color": "#2f5597", "baseline": "alphabetic", "align": "left", "dx": -1053, "dy": 32.5}, "encoding": {"text": {"field": "label"}}}
   ]},
   {"vconcat": [
    {"vconcat": [
      {"concat": [
       {"vconcat": [
        {"width": 414, "height": 39, "view": {"stroke": "#7f7f7f", "strokeWidth": 1.3, "fill": "white"}, "data": {"values": [{"species": "Citharichthys.sordidus"}]}, "mark": {"type": "text", "font": "Liberation Sans", "fontSize": 23, "color": "#1a1a1a", "baseline": "middle"}, "encoding": {"text": {"field": "species"}}},
        {"width": 414, "height": 263, "view": {"stroke": "#333333", "strokeWidth": 1.3}, "layer": [
         {"data": {"name": "pts1"}, "mark": {"type": "circle", "size": 38, "color": "black", "opacity": 1}, "encoding": {"x": {"field": "manta", "type": "quantitative", "scale": {"domain": [-5.2, 114.3], "nice": false, "zero": false}, "axis": {"values": [0, 30, 60, 90], "format": "d", "title": null}}, "y": {"field": "bongo", "type": "quantitative", "scale": {"domain": [-101, 795], "nice": false, "zero": false}, "axis": {"values": [0, 200, 400, 600], "format": "d", "title": null, "minExtent": 85}}}},
         {"data": {"name": "fit1"}, "mark": {"type": "area", "color": "#999999", "opacity": 0.4}, "encoding": {"x": {"field": "manta", "type": "quantitative", "axis": {"title": null}}, "y": {"field": "lo", "type": "quantitative", "axis": {"title": null}}, "y2": {"field": "hi"}}},
         {"data": {"name": "fit1"}, "mark": {"type": "line", "color": "#3366FF", "strokeWidth": 4}, "encoding": {"x": {"field": "manta", "type": "quantitative", "axis": {"title": null}}, "y": {"field": "fit", "type": "quantitative", "axis": {"title": null}}}}
        ]}
       ], "spacing": 0, "bounds": "flush"},
       {"vconcat": [
        {"width": 414, "height": 39, "view": {"stroke": "#7f7f7f", "strokeWidth": 1.3, "fill": "white"}, "data": {"values": [{"species": "Citharichthys.stigmaeus", "star": "✱"}]}, "layer": [{"mark": {"type": "text", "font": "Liberation Sans", "fontSize": 23, "color": "#1a1a1a", "baseline": "middle"}, "encoding": {"text": {"field": "species"}}}, {"mark": {"type": "text", "font": "DejaVu Sans", "fontSize": 32, "fontWeight": "bold", "color": "#2f5597", "baseline": "middle", "dx": 183, "dy": 1}, "encoding": {"text": {"field": "star"}}}]},
        {"width": 414, "height": 263, "view": {"stroke": "#333333", "strokeWidth": 1.3}, "layer": [
         {"data": {"name": "pts2"}, "mark": {"type": "circle", "size": 38, "color": "black", "opacity": 1}, "encoding": {"x": {"field": "manta", "type": "quantitative", "scale": {"domain": [-3.28, 68.9], "nice": false, "zero": false}, "axis": {"values": [0, 20, 40, 60], "format": "d", "title": null}}, "y": {"field": "bongo", "type": "quantitative", "scale": {"domain": [-24.3, 510], "nice": false, "zero": false}, "axis": {"values": [0, 100, 200, 300, 400, 500], "format": "d", "title": null, "minExtent": 60}}}},
         {"data": {"name": "fit2"}, "mark": {"type": "area", "color": "#999999", "opacity": 0.4}, "encoding": {"x": {"field": "manta", "type": "quantitative", "axis": {"title": null}}, "y": {"field": "lo", "type": "quantitative", "axis": {"title": null}}, "y2": {"field": "hi"}}},
         {"data": {"name": "fit2"}, "mark": {"type": "line", "color": "#3366FF", "strokeWidth": 4}, "encoding": {"x": {"field": "manta", "type": "quantitative", "axis": {"title": null}}, "y": {"field": "fit", "type": "quantitative", "axis": {"title": null}}}}
        ]}
       ], "spacing": 0, "bounds": "flush"},
       {"vconcat": [
        {"width": 414, "height": 39, "view": {"stroke": "#7f7f7f", "strokeWidth": 1.3, "fill": "white"}, "data": {"values": [{"species": "Cololabis.saira", "star": "✱"}]}, "layer": [{"mark": {"type": "text", "font": "Liberation Sans", "fontSize": 23, "color": "#1a1a1a", "baseline": "middle"}, "encoding": {"text": {"field": "species"}}}, {"mark": {"type": "text", "font": "DejaVu Sans", "fontSize": 32, "fontWeight": "bold", "color": "#2f5597", "baseline": "middle", "dx": 183, "dy": 1}, "encoding": {"text": {"field": "star"}}}]},
        {"width": 414, "height": 263, "view": {"stroke": "#333333", "strokeWidth": 1.3}, "layer": [
         {"data": {"name": "pts3"}, "mark": {"type": "circle", "size": 38, "color": "black", "opacity": 1}, "encoding": {"x": {"field": "manta", "type": "quantitative", "scale": {"domain": [-15.6, 327.5], "nice": false, "zero": false}, "axis": {"values": [0, 100, 200, 300], "format": "d", "title": null}}, "y": {"field": "bongo", "type": "quantitative", "scale": {"domain": [-0.99, 20.79], "nice": false, "zero": false}, "axis": {"values": [0, 5, 10, 15, 20], "format": "d", "title": null, "minExtent": 60}}}},
         {"data": {"name": "fit3"}, "mark": {"type": "area", "color": "#999999", "opacity": 0.4}, "encoding": {"x": {"field": "manta", "type": "quantitative", "axis": {"title": null}}, "y": {"field": "lo", "type": "quantitative", "axis": {"title": null}}, "y2": {"field": "hi"}}},
         {"data": {"name": "fit3"}, "mark": {"type": "line", "color": "#3366FF", "strokeWidth": 4}, "encoding": {"x": {"field": "manta", "type": "quantitative", "axis": {"title": null}}, "y": {"field": "fit", "type": "quantitative", "axis": {"title": null}}}}
        ]}
       ], "spacing": 0, "bounds": "flush"},
       {"vconcat": [
        {"width": 414, "height": 39, "view": {"stroke": "#7f7f7f", "strokeWidth": 1.3, "fill": "white"}, "data": {"values": [{"species": "Engraulis.mordax", "star": "✱"}]}, "layer": [{"mark": {"type": "text", "font": "Liberation Sans", "fontSize": 23, "color": "#1a1a1a", "baseline": "middle"}, "encoding": {"text": {"field": "species"}}}, {"mark": {"type": "text", "font": "DejaVu Sans", "fontSize": 32, "fontWeight": "bold", "color": "#2f5597", "baseline": "middle", "dx": 183, "dy": 1}, "encoding": {"text": {"field": "star"}}}]},
        {"width": 414, "height": 263, "view": {"stroke": "#333333", "strokeWidth": 1.3}, "layer": [
         {"data": {"name": "pts4"}, "mark": {"type": "circle", "size": 38, "color": "black", "opacity": 1}, "encoding": {"x": {"field": "manta", "type": "quantitative", "scale": {"domain": [-589, 12369], "nice": false, "zero": false}, "axis": {"values": [0, 2500, 5000, 7500, 10000], "format": "d", "title": null}}, "y": {"field": "bongo", "type": "quantitative", "scale": {"domain": [-1076, 22593], "nice": false, "zero": false}, "axis": {"values": [0, 5000, 10000, 15000, 20000], "format": "d", "title": null, "minExtent": 72}}}},
         {"data": {"name": "fit4"}, "mark": {"type": "area", "color": "#999999", "opacity": 0.4}, "encoding": {"x": {"field": "manta", "type": "quantitative", "axis": {"title": null}}, "y": {"field": "lo", "type": "quantitative", "axis": {"title": null}}, "y2": {"field": "hi"}}},
         {"data": {"name": "fit4"}, "mark": {"type": "line", "color": "#3366FF", "strokeWidth": 4}, "encoding": {"x": {"field": "manta", "type": "quantitative", "axis": {"title": null}}, "y": {"field": "fit", "type": "quantitative", "axis": {"title": null}}}}
        ]}
       ], "spacing": 0, "bounds": "flush"},
       {"vconcat": [
        {"width": 414, "height": 39, "view": {"stroke": "#7f7f7f", "strokeWidth": 1.3, "fill": "white"}, "data": {"values": [{"species": "Hexagrammos.decagrammus", "star": "✱"}]}, "layer": [{"mark": {"type": "text", "font": "Liberation Sans", "fontSize": 23, "color": "#1a1a1a", "baseline": "middle"}, "encoding": {"text": {"field": "species"}}}, {"mark": {"type": "text", "font": "DejaVu Sans", "fontSize": 32, "fontWeight": "bold", "color": "#2f5597", "baseline": "middle", "dx": 181, "dy": 1}, "encoding": {"text": {"field": "star"}}}]},
        {"width": 414, "height": 263, "view": {"stroke": "#333333", "strokeWidth": 1.3}, "layer": [
         {"data": {"name": "pts5"}, "mark": {"type": "circle", "size": 38, "color": "black", "opacity": 1}, "encoding": {"x": {"field": "manta", "type": "quantitative", "scale": {"domain": [-105, 2213], "nice": false, "zero": false}, "axis": {"values": [0, 500, 1000, 1500, 2000], "format": "d", "title": null}}, "y": {"field": "bongo", "type": "quantitative", "scale": {"domain": [-1.65, 31.8], "nice": false, "zero": false}, "axis": {"values": [0, 10, 20, 30], "format": "d", "title": null, "minExtent": 85}}}},
         {"data": {"name": "fit5"}, "mark": {"type": "area", "color": "#999999", "opacity": 0.4}, "encoding": {"x": {"field": "manta", "type": "quantitative", "axis": {"title": null}}, "y": {"field": "lo", "type": "quantitative", "axis": {"title": null}}, "y2": {"field": "hi"}}},
         {"data": {"name": "fit5"}, "mark": {"type": "line", "color": "#3366FF", "strokeWidth": 4}, "encoding": {"x": {"field": "manta", "type": "quantitative", "axis": {"title": null}}, "y": {"field": "fit", "type": "quantitative", "axis": {"title": null}}}}
        ]}
       ], "spacing": 0, "bounds": "flush"},
       {"vconcat": [
        {"width": 414, "height": 39, "view": {"stroke": "#7f7f7f", "strokeWidth": 1.3, "fill": "white"}, "data": {"values": [{"species": "Hypsoblennius.jenkinsi", "star": "✱"}]}, "layer": [{"mark": {"type": "text", "font": "Liberation Sans", "fontSize": 23, "color": "#1a1a1a", "baseline": "middle"}, "encoding": {"text": {"field": "species"}}}, {"mark": {"type": "text", "font": "DejaVu Sans", "fontSize": 32, "fontWeight": "bold", "color": "#2f5597", "baseline": "middle", "dx": 183, "dy": 1}, "encoding": {"text": {"field": "star"}}}]},
        {"width": 414, "height": 263, "view": {"stroke": "#333333", "strokeWidth": 1.3}, "layer": [
         {"data": {"name": "pts6"}, "mark": {"type": "circle", "size": 38, "color": "black", "opacity": 1}, "encoding": {"x": {"field": "manta", "type": "quantitative", "scale": {"domain": [-37, 782], "nice": false, "zero": false}, "axis": {"values": [0, 200, 400, 600], "format": "d", "title": null}}, "y": {"field": "bongo", "type": "quantitative", "scale": {"domain": [-7.15, 150.15], "nice": false, "zero": false}, "axis": {"values": [0, 50, 100, 150], "format": "d", "title": null, "minExtent": 60}}}},
         {"data": {"name": "fit6"}, "mark": {"type": "area", "color": "#999999", "opacity": 0.4}, "encoding": {"x": {"field": "manta", "type": "quantitative", "axis": {"title": null}}, "y": {"field": "lo", "type": "quantitative", "axis": {"title": null}}, "y2": {"field": "hi"}}},
         {"data": {"name": "fit6"}, "mark": {"type": "line", "color": "#3366FF", "strokeWidth": 4}, "encoding": {"x": {"field": "manta", "type": "quantitative", "axis": {"title": null}}, "y": {"field": "fit", "type": "quantitative", "axis": {"title": null}}}}
        ]}
       ], "spacing": 0, "bounds": "flush"},
       {"vconcat": [
        {"width": 414, "height": 39, "view": {"stroke": "#7f7f7f", "strokeWidth": 1.3, "fill": "white"}, "data": {"values": [{"species": "Leuroglossus.stilbius"}]}, "mark": {"type": "text", "font": "Liberation Sans", "fontSize": 23, "color": "#1a1a1a", "baseline": "middle"}, "encoding": {"text": {"field": "species"}}},
        {"width": 414, "height": 263, "view": {"stroke": "#333333", "strokeWidth": 1.3}, "layer": [
         {"data": {"name": "pts7"}, "mark": {"type": "circle", "size": 38, "color": "black", "opacity": 1}, "encoding": {"x": {"field": "manta", "type": "quantitative", "scale": {"domain": [-0.47, 9.78], "nice": false, "zero": false}, "axis": {"values": [0, 2.5, 5, 7.5], "format": ".1f", "title": null}}, "y": {"field": "bongo", "type": "quantitative", "scale": {"domain": [-232, 1513], "nice": false, "zero": false}, "axis": {"values": [0, 500, 1000, 1500], "format": "d", "title": null, "minExtent": 60}}}},
         {"data": {"name": "fit7"}, "mark": {"type": "area", "color": "#999999", "opacity": 0.4}, "encoding": {"x": {"field": "manta", "type": "quantitative", "axis": {"title": null}}, "y": {"field": "lo", "type": "quantitative", "axis": {"title": null}}, "y2": {"field": "hi"}}},
         {"data": {"name": "fit7"}, "mark": {"type": "line", "color": "#3366FF", "strokeWidth": 4}, "encoding": {"x": {"field": "manta", "type": "quantitative", "axis": {"title": null}}, "y": {"field": "fit", "type": "quantitative", "axis": {"title": null}}}}
        ]}
       ], "spacing": 0, "bounds": "flush"},
       {"vconcat": [
        {"width": 414, "height": 39, "view": {"stroke": "#7f7f7f", "strokeWidth": 1.3, "fill": "white"}, "data": {"values": [{"species": "Lipolagus.ochotensis", "star": "✱"}]}, "layer": [{"mark": {"type": "text", "font": "Liberation Sans", "fontSize": 23, "color": "#1a1a1a", "baseline": "middle"}, "encoding": {"text": {"field": "species"}}}, {"mark": {"type": "text", "font": "DejaVu Sans", "fontSize": 32, "fontWeight": "bold", "color": "#2f5597", "baseline": "middle", "dx": 183, "dy": 1}, "encoding": {"text": {"field": "star"}}}]},
        {"width": 414, "height": 263, "view": {"stroke": "#333333", "strokeWidth": 1.3}, "layer": [
         {"data": {"name": "pts8"}, "mark": {"type": "circle", "size": 38, "color": "black", "opacity": 1}, "encoding": {"x": {"field": "manta", "type": "quantitative", "scale": {"domain": [-0.56, 11.73], "nice": false, "zero": false}, "axis": {"values": [0, 3, 6, 9], "format": "d", "title": null}}, "y": {"field": "bongo", "type": "quantitative", "scale": {"domain": [-30, 629], "nice": false, "zero": false}, "axis": {"values": [0, 200, 400, 600], "format": "d", "title": null, "minExtent": 72}}}},
         {"data": {"name": "fit8"}, "mark": {"type": "area", "color": "#999999", "opacity": 0.4}, "encoding": {"x": {"field": "manta", "type": "quantitative", "axis": {"title": null}}, "y": {"field": "lo", "type": "quantitative", "axis": {"title": null}}, "y2": {"field": "hi"}}},
         {"data": {"name": "fit8"}, "mark": {"type": "line", "color": "#3366FF", "strokeWidth": 4}, "encoding": {"x": {"field": "manta", "type": "quantitative", "axis": {"title": null}}, "y": {"field": "fit", "type": "quantitative", "axis": {"title": null}}}}
        ]}
       ], "spacing": 0, "bounds": "flush"},
       {"vconcat": [
        {"width": 414, "height": 39, "view": {"stroke": "#7f7f7f", "strokeWidth": 1.3, "fill": "white"}, "data": {"values": [{"species": "Merluccius.productus", "star": "✱"}]}, "layer": [{"mark": {"type": "text", "font": "Liberation Sans", "fontSize": 23, "color": "#1a1a1a", "baseline": "middle"}, "encoding": {"text": {"field": "species"}}}, {"mark": {"type": "text", "font": "DejaVu Sans", "fontSize": 32, "fontWeight": "bold", "color": "#2f5597", "baseline": "middle", "dx": 183, "dy": 1}, "encoding": {"text": {"field": "star"}}}]},
        {"width": 414, "height": 263, "view": {"stroke": "#333333", "strokeWidth": 1.3}, "layer": [
         {"data": {"name": "pts9"}, "mark": {"type": "circle", "size": 38, "color": "black", "opacity": 1}, "encoding": {"x": {"field": "manta", "type": "quantitative", "scale": {"domain": [-65, 1374], "nice": false, "zero": false}, "axis": {"values": [0, 500, 1000], "format": "d", "title": null}}, "y": {"field": "bongo", "type": "quantitative", "scale": {"domain": [-5838, 122595], "nice": false, "zero": false}, "axis": {"values": [0, 30000, 60000, 90000, 120000], "format": "d", "title": null, "minExtent": 85}}}},
         {"data": {"name": "fit9"}, "mark": {"type": "area", "color": "#999999", "opacity": 0.4}, "encoding": {"x": {"field": "manta", "type": "quantitative", "axis": {"title": null}}, "y": {"field": "lo", "type": "quantitative", "axis": {"title": null}}, "y2": {"field": "hi"}}},
         {"data": {"name": "fit9"}, "mark": {"type": "line", "color": "#3366FF", "strokeWidth": 4}, "encoding": {"x": {"field": "manta", "type": "quantitative", "axis": {"title": null}}, "y": {"field": "fit", "type": "quantitative", "axis": {"title": null}}}}
        ]}
       ], "spacing": 0, "bounds": "flush"},
       {"vconcat": [
        {"width": 414, "height": 39, "view": {"stroke": "#7f7f7f", "strokeWidth": 1.3, "fill": "white"}, "data": {"values": [{"species": "Sardinops.sagax", "star": "✱"}]}, "layer": [{"mark": {"type": "text", "font": "Liberation Sans", "fontSize": 23, "color": "#1a1a1a", "baseline": "middle"}, "encoding": {"text": {"field": "species"}}}, {"mark": {"type": "text", "font": "DejaVu Sans", "fontSize": 32, "fontWeight": "bold", "color": "#2f5597", "baseline": "middle", "dx": 183, "dy": 1}, "encoding": {"text": {"field": "star"}}}]},
        {"width": 414, "height": 263, "view": {"stroke": "#333333", "strokeWidth": 1.3}, "layer": [
         {"data": {"name": "pts10"}, "mark": {"type": "circle", "size": 38, "color": "black", "opacity": 1}, "encoding": {"x": {"field": "manta", "type": "quantitative", "scale": {"domain": [-189, 3967], "nice": false, "zero": false}, "axis": {"values": [0, 1000, 2000, 3000], "format": "d", "title": null}}, "y": {"field": "bongo", "type": "quantitative", "scale": {"domain": [-304, 6390], "nice": false, "zero": false}, "axis": {"values": [0, 2000, 4000, 6000], "format": "d", "title": null, "minExtent": 60}}}},
         {"data": {"name": "fit10"}, "mark": {"type": "area", "color": "#999999", "opacity": 0.4}, "encoding": {"x": {"field": "manta", "type": "quantitative", "axis": {"title": null}}, "y": {"field": "lo", "type": "quantitative", "axis": {"title": null}}, "y2": {"field": "hi"}}},
         {"data": {"name": "fit10"}, "mark": {"type": "line", "color": "#3366FF", "strokeWidth": 4}, "encoding": {"x": {"field": "manta", "type": "quantitative", "axis": {"title": null}}, "y": {"field": "fit", "type": "quantitative", "axis": {"title": null}}}}
        ]}
       ], "spacing": 0, "bounds": "flush"},
       {"vconcat": [
        {"width": 414, "height": 39, "view": {"stroke": "#7f7f7f", "strokeWidth": 1.3, "fill": "white"}, "data": {"values": [{"species": "Scomber.japonicus", "star": "✱"}]}, "layer": [{"mark": {"type": "text", "font": "Liberation Sans", "fontSize": 23, "color": "#1a1a1a", "baseline": "middle"}, "encoding": {"text": {"field": "species"}}}, {"mark": {"type": "text", "font": "DejaVu Sans", "fontSize": 32, "fontWeight": "bold", "color": "#2f5597", "baseline": "middle", "dx": 183, "dy": 1}, "encoding": {"text": {"field": "star"}}}]},
        {"width": 414, "height": 263, "view": {"stroke": "#333333", "strokeWidth": 1.3}, "layer": [
         {"data": {"name": "pts11"}, "mark": {"type": "circle", "size": 38, "color": "black", "opacity": 1}, "encoding": {"x": {"field": "manta", "type": "quantitative", "scale": {"domain": [-27, 570], "nice": false, "zero": false}, "axis": {"values": [0, 200, 400], "format": "d", "title": null}}, "y": {"field": "bongo", "type": "quantitative", "scale": {"domain": [-75, 1575], "nice": false, "zero": false}, "axis": {"values": [0, 500, 1000, 1500], "format": "d", "title": null, "minExtent": 60}}}},
         {"data": {"name": "fit11"}, "mark": {"type": "area", "color": "#999999", "opacity": 0.4}, "encoding": {"x": {"field": "manta", "type": "quantitative", "axis": {"title": null}}, "y": {"field": "lo", "type": "quantitative", "axis": {"title": null}}, "y2": {"field": "hi"}}},
         {"data": {"name": "fit11"}, "mark": {"type": "line", "color": "#3366FF", "strokeWidth": 4}, "encoding": {"x": {"field": "manta", "type": "quantitative", "axis": {"title": null}}, "y": {"field": "fit", "type": "quantitative", "axis": {"title": null}}}}
        ]}
       ], "spacing": 0, "bounds": "flush"},
       {"vconcat": [
        {"width": 414, "height": 39, "view": {"stroke": "#7f7f7f", "strokeWidth": 1.3, "fill": "white"}, "data": {"values": [{"species": "Scorpaenichthys.marmoratus"}]}, "mark": {"type": "text", "font": "Liberation Sans", "fontSize": 23, "color": "#1a1a1a", "baseline": "middle"}, "encoding": {"text": {"field": "species"}}},
        {"width": 414, "height": 263, "view": {"stroke": "#333333", "strokeWidth": 1.3}, "layer": [
         {"data": {"name": "pts12"}, "mark": {"type": "circle", "size": 38, "color": "black", "opacity": 1}, "encoding": {"x": {"field": "manta", "type": "quantitative", "scale": {"domain": [-8.8, 184.8], "nice": false, "zero": false}, "axis": {"values": [0, 50, 100, 150], "format": "d", "title": null}}, "y": {"field": "bongo", "type": "quantitative", "scale": {"domain": [-3.18, 29.43], "nice": false, "zero": false}, "axis": {"values": [0, 10, 20], "format": "d", "title": null, "minExtent": 72}}}},
         {"data": {"name": "fit12"}, "mark": {"type": "area", "color": "#999999", "opacity": 0.4}, "encoding": {"x": {"field": "manta", "type": "quantitative", "axis": {"title": null}}, "y": {"field": "lo", "type": "quantitative", "axis": {"title": null}}, "y2": {"field": "hi"}}},
         {"data": {"name": "fit12"}, "mark": {"type": "line", "color": "#3366FF", "strokeWidth": 4}, "encoding": {"x": {"field": "manta", "type": "quantitative", "axis": {"title": null}}, "y": {"field": "fit", "type": "quantitative", "axis": {"title": null}}}}
        ]}
       ], "spacing": 0, "bounds": "flush"},
       {"vconcat": [
        {"width": 414, "height": 39, "view": {"stroke": "#7f7f7f", "strokeWidth": 1.3, "fill": "white"}, "data": {"values": [{"species": "Sebastes", "star": "✱"}]}, "layer": [{"mark": {"type": "text", "font": "Liberation Sans", "fontSize": 23, "color": "#1a1a1a", "baseline": "middle"}, "encoding": {"text": {"field": "species"}}}, {"mark": {"type": "text", "font": "DejaVu Sans", "fontSize": 32, "fontWeight": "bold", "color": "#2f5597", "baseline": "middle", "dx": 183, "dy": 1}, "encoding": {"text": {"field": "star"}}}]},
        {"width": 414, "height": 263, "view": {"stroke": "#333333", "strokeWidth": 1.3}, "layer": [
         {"data": {"name": "pts13"}, "mark": {"type": "circle", "size": 38, "color": "black", "opacity": 1}, "encoding": {"x": {"field": "manta", "type": "quantitative", "scale": {"domain": [-174, 3650], "nice": false, "zero": false}, "axis": {"values": [0, 1000, 2000, 3000], "format": "d", "title": null}}, "y": {"field": "bongo", "type": "quantitative", "scale": {"domain": [-182, 3821], "nice": false, "zero": false}, "axis": {"values": [0, 1000, 2000, 3000], "format": "d", "title": null, "minExtent": 85}}}},
         {"data": {"name": "fit13"}, "mark": {"type": "area", "color": "#999999", "opacity": 0.4}, "encoding": {"x": {"field": "manta", "type": "quantitative", "axis": {"title": null}}, "y": {"field": "lo", "type": "quantitative", "axis": {"title": null}}, "y2": {"field": "hi"}}},
         {"data": {"name": "fit13"}, "mark": {"type": "line", "color": "#3366FF", "strokeWidth": 4}, "encoding": {"x": {"field": "manta", "type": "quantitative", "axis": {"title": null}}, "y": {"field": "fit", "type": "quantitative", "axis": {"title": null}}}}
        ]}
       ], "spacing": 0, "bounds": "flush"},
       {"vconcat": [
        {"width": 414, "height": 39, "view": {"stroke": "#7f7f7f", "strokeWidth": 1.3, "fill": "white"}, "data": {"values": [{"species": "Sebastes.jordani"}]}, "mark": {"type": "text", "font": "Liberation Sans", "fontSize": 23, "color": "#1a1a1a", "baseline": "middle"}, "encoding": {"text": {"field": "species"}}},
        {"width": 414, "height": 263, "view": {"stroke": "#333333", "strokeWidth": 1.3}, "layer": [
         {"data": {"name": "pts14"}, "mark": {"type": "circle", "size": 38, "color": "black", "opacity": 1}, "encoding": {"x": {"field": "manta", "type": "quantitative", "scale": {"domain": [-32.5, 682], "nice": false, "zero": false}, "axis": {"values": [0, 200, 400, 600], "format": "d", "title": null}}, "y": {"field": "bongo", "type": "quantitative", "scale": {"domain": [-55, 1145], "nice": false, "zero": false}, "axis": {"values": [0, 300, 600, 900], "format": "d", "title": null, "minExtent": 60}}}},
         {"data": {"name": "fit14"}, "mark": {"type": "area", "color": "#999999", "opacity": 0.4}, "encoding": {"x": {"field": "manta", "type": "quantitative", "axis": {"title": null}}, "y": {"field": "lo", "type": "quantitative", "axis": {"title": null}}, "y2": {"field": "hi"}}},
         {"data": {"name": "fit14"}, "mark": {"type": "line", "color": "#3366FF", "strokeWidth": 4}, "encoding": {"x": {"field": "manta", "type": "quantitative", "axis": {"title": null}}, "y": {"field": "fit", "type": "quantitative", "axis": {"title": null}}}}
        ]}
       ], "spacing": 0, "bounds": "flush"},
       {"vconcat": [
        {"width": 414, "height": 39, "view": {"stroke": "#7f7f7f", "strokeWidth": 1.3, "fill": "white"}, "data": {"values": [{"species": "Stenobrachius.leucopsarus", "star": "✱"}]}, "layer": [{"mark": {"type": "text", "font": "Liberation Sans", "fontSize": 23, "color": "#1a1a1a", "baseline": "middle"}, "encoding": {"text": {"field": "species"}}}, {"mark": {"type": "text", "font": "DejaVu Sans", "fontSize": 32, "fontWeight": "bold", "color": "#2f5597", "baseline": "middle", "dx": 183, "dy": 1}, "encoding": {"text": {"field": "star"}}}]},
        {"width": 414, "height": 263, "view": {"stroke": "#333333", "strokeWidth": 1.3}, "layer": [
         {"data": {"name": "pts15"}, "mark": {"type": "circle", "size": 38, "color": "black", "opacity": 1}, "encoding": {"x": {"field": "manta", "type": "quantitative", "scale": {"domain": [-1.42, 29.9], "nice": false, "zero": false}, "axis": {"values": [0, 10, 20], "format": "d", "title": null}}, "y": {"field": "bongo", "type": "quantitative", "scale": {"domain": [-65, 1362], "nice": false, "zero": false}, "axis": {"values": [0, 500, 1000], "format": "d", "title": null, "minExtent": 60}}}},
         {"data": {"name": "fit15"}, "mark": {"type": "area", "color": "#999999", "opacity": 0.4}, "encoding": {"x": {"field": "manta", "type": "quantitative", "axis": {"title": null}}, "y": {"field": "lo", "type": "quantitative", "axis": {"title": null}}, "y2": {"field": "hi"}}},
         {"data": {"name": "fit15"}, "mark": {"type": "line", "color": "#3366FF", "strokeWidth": 4}, "encoding": {"x": {"field": "manta", "type": "quantitative", "axis": {"title": null}}, "y": {"field": "fit", "type": "quantitative", "axis": {"title": null}}}}
        ]}
       ], "spacing": 0, "bounds": "flush"},
       {"vconcat": [
        {"width": 414, "height": 39, "view": {"stroke": "#7f7f7f", "strokeWidth": 1.3, "fill": "white"}, "data": {"values": [{"species": "Vinciguerria.lucetia", "star": "✱"}]}, "layer": [{"mark": {"type": "text", "font": "Liberation Sans", "fontSize": 23, "color": "#1a1a1a", "baseline": "middle"}, "encoding": {"text": {"field": "species"}}}, {"mark": {"type": "text", "font": "DejaVu Sans", "fontSize": 32, "fontWeight": "bold", "color": "#2f5597", "baseline": "middle", "dx": 183, "dy": 1}, "encoding": {"text": {"field": "star"}}}]},
        {"width": 414, "height": 263, "view": {"stroke": "#333333", "strokeWidth": 1.3}, "layer": [
         {"data": {"name": "pts16"}, "mark": {"type": "circle", "size": 38, "color": "black", "opacity": 1}, "encoding": {"x": {"field": "manta", "type": "quantitative", "scale": {"domain": [-3.05, 63.95], "nice": false, "zero": false}, "axis": {"values": [0, 20, 40, 60], "format": "d", "title": null}}, "y": {"field": "bongo", "type": "quantitative", "scale": {"domain": [-196, 4109], "nice": false, "zero": false}, "axis": {"values": [0, 1000, 2000, 3000, 4000], "format": "d", "title": null, "minExtent": 72}}}},
         {"data": {"name": "fit16"}, "mark": {"type": "area", "color": "#999999", "opacity": 0.4}, "encoding": {"x": {"field": "manta", "type": "quantitative", "axis": {"title": null}}, "y": {"field": "lo", "type": "quantitative", "axis": {"title": null}}, "y2": {"field": "hi"}}},
         {"data": {"name": "fit16"}, "mark": {"type": "line", "color": "#3366FF", "strokeWidth": 4}, "encoding": {"x": {"field": "manta", "type": "quantitative", "axis": {"title": null}}, "y": {"field": "fit", "type": "quantitative", "axis": {"title": null}}}}
        ]}
       ], "spacing": 0, "bounds": "flush"}
      ], "columns": 4, "spacing": {"row": 7, "column": 8}, "align": "each"}
    ], "title": {"text": "Bongo Abundance", "orient": "left", "anchor": "middle", "fontSize": 31, "offset": 6}}
   ], "title": {"text": "Manta Abundance", "orient": "bottom", "anchor": "middle", "fontSize": 31, "offset": 1, "dx": 60}}
  ], "spacing": 0, "bounds": "flush"}
 ], "spacing": 5}
], "spacing": 0
}
